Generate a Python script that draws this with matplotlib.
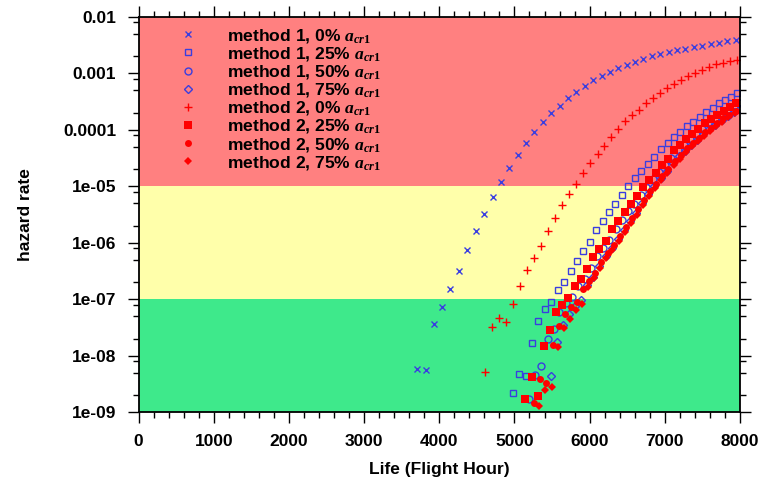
import matplotlib
matplotlib.use("Agg")
import matplotlib.pyplot as plt
from matplotlib.ticker import FixedLocator, FixedFormatter, MultipleLocator, NullFormatter

plt.rcParams['font.family'] = ['Liberation Sans', 'DejaVu Sans']
plt.rcParams['font.weight'] = 'bold'
plt.rcParams['mathtext.fontset'] = 'custom'
plt.rcParams['mathtext.it'] = 'Liberation Serif:italic'
plt.rcParams['mathtext.rm'] = 'Liberation Serif'

# ---------------- data ----------------
m1_0_x = [3704, 3824, 3926, 4037, 4147, 4263, 4373, 4485, 4595, 4711, 4821, 4932, 5043, 5154,
          5264, 5380, 5490, 5602, 5712, 5823, 5934, 6049, 6161, 6271, 6381, 6493, 6603, 6714,
          6826, 6940, 7052, 7162, 7272, 7384, 7495, 7610, 7721, 7831, 7943]
m1_0_y = [5.8e-9, 5.5e-9, 3.7e-8, 7.4e-8, 1.49e-7, 3.1e-7, 7.5e-7, 1.63e-6, 3.2e-6, 6.4e-6,
          1.19e-5, 2.08e-5, 3.6e-5, 5.8e-5, 9.1e-5, 1.39e-4, 1.99e-4, 2.7e-4, 3.7e-4, 4.7e-4,
          6.0e-4, 7.5e-4, 9.1e-4, 1.06e-3, 1.23e-3, 1.43e-3, 1.61e-3, 1.80e-3, 2.01e-3, 2.21e-3,
          2.39e-3, 2.57e-3, 2.71e-3, 2.90e-3, 3.12e-3, 3.32e-3, 3.50e-3, 3.68e-3, 3.86e-3]

m1_25_x = [4977, 5065, 5150, 5234, 5320, 5406, 5490, 5575, 5663, 5748, 5832, 5916, 6005, 6089,
           6175, 6262, 6344, 6433, 6517, 6601, 6687, 6772, 6860, 6945, 7038, 7122, 7206, 7299,
           7379, 7468, 7552, 7637, 7721, 7801, 7876, 7964]
m1_25_y = [2.2e-9, 4.8e-9, 4.4e-9, 1.68e-8, 4.1e-8, 6.6e-8, 9.0e-8, 1.47e-7, 2.03e-7, 3.2e-7,
           4.8e-7, 7.2e-7, 1.05e-6, 1.67e-6, 2.42e-6, 3.5e-6, 4.9e-6, 7.0e-6, 1.02e-5, 1.38e-5,
           1.88e-5, 2.51e-5, 3.3e-5, 4.5e-5, 5.8e-5, 7.4e-5, 9.1e-5, 1.17e-4, 1.39e-4, 1.69e-4,
           2.07e-4, 2.47e-4, 2.95e-4, 3.4e-4, 3.9e-4, 4.5e-4]

m1_50_x = [5200, 5280, 5356, 5440, 5522, 5599, 5683, 5770, 5849, 5932, 6012, 6094, 6178, 6262,
           6347, 6427, 6511, 6594, 6677, 6756, 6840, 6925, 7009, 7085, 7169, 7253, 7332, 7412,
           7492, 7581, 7661, 7745, 7830, 7914, 7993]
m1_50_y = [1.67e-9, 4.6e-9, 6.6e-9, 1.93e-8, 2.9e-8, 5.8e-8, 8.5e-8, 1.07e-7, 1.73e-7, 2.31e-7,
           3.5e-7, 5.7e-7, 7.9e-7, 1.11e-6, 1.78e-6, 2.52e-6, 3.6e-6, 4.9e-6, 7.0e-6, 9.7e-6,
           1.33e-5, 1.76e-5, 2.41e-5, 3.2e-5, 4.4e-5, 5.5e-5, 6.9e-5, 8.5e-5, 1.05e-4, 1.32e-4,
           1.55e-4, 1.87e-4, 2.20e-4, 2.59e-4, 2.99e-4]

m1_75_x = [5482, 5563, 5644, 5726, 5807, 5888, 5969, 6050, 6131, 6212, 6294, 6375, 6456, 6537,
           6618, 6699, 6780, 6861, 6943, 7024, 7105, 7186, 7267, 7348, 7429, 7510, 7592, 7673,
           7754, 7835, 7916, 7997]
m1_75_y = [4.3e-9, 1.73e-8, 3.5e-8, 5.4e-8, 7.5e-8, 9.8e-8, 1.77e-7, 2.5e-7, 3.8e-7, 5.8e-7,
           8.0e-7, 1.16e-6, 1.71e-6, 2.42e-6, 3.4e-6, 5.0e-6, 7.3e-6, 1.01e-5, 1.40e-5, 1.90e-5,
           2.58e-5, 3.4e-5, 4.3e-5, 5.4e-5, 6.7e-5, 8.4e-5, 1.03e-4, 1.24e-4, 1.49e-4, 1.76e-4,
           2.07e-4, 2.39e-4]

m2_0_x = [4612, 4706, 4799, 4892, 4985, 5078, 5171, 5264, 5357, 5450, 5543, 5637, 5730, 5823,
          5916, 6009, 6105, 6195, 6288, 6381, 6474, 6568, 6661, 6754, 6847, 6940, 7033, 7126,
          7219, 7312, 7405, 7499, 7592, 7685, 7778, 7871, 7964]
m2_0_y = [5.1e-9, 3.2e-8, 4.7e-8, 3.9e-8, 8.1e-8, 1.70e-7, 3.3e-7, 5.3e-7, 8.6e-7, 1.59e-6,
          2.73e-6, 4.6e-6, 7.3e-6, 1.11e-5, 1.75e-5, 2.60e-5, 3.7e-5, 5.2e-5, 7.4e-5, 1.05e-4,
          1.42e-4, 1.81e-4, 2.27e-4, 2.95e-4, 3.6e-4, 4.5e-4, 5.6e-4, 6.6e-4, 7.6e-4, 9.0e-4,
          1.00e-3, 1.15e-3, 1.32e-3, 1.47e-3, 1.56e-3, 1.64e-3, 1.73e-3]

m2_25_x = [5147, 5230, 5313, 5390, 5473, 5553, 5635, 5719, 5801, 5885, 5968, 6049, 6131, 6215,
           6300, 6380, 6464, 6548, 6630, 6710, 6794, 6879, 6963, 7038, 7122, 7206, 7286, 7366,
           7445, 7534, 7614, 7698, 7783, 7867, 7947]
m2_25_y = [1.73e-9, 4.2e-9, 1.93e-9, 1.48e-8, 2.86e-8, 5.8e-8, 7.8e-8, 1.04e-7, 1.68e-7, 2.23e-7,
           3.4e-7, 5.5e-7, 7.6e-7, 1.08e-6, 1.72e-6, 2.47e-6, 3.5e-6, 4.8e-6, 6.8e-6, 9.6e-6,
           1.30e-5, 1.73e-5, 2.38e-5, 3.1e-5, 4.4e-5, 5.4e-5, 6.8e-5, 8.4e-5, 1.05e-4, 1.30e-4,
           1.53e-4, 1.85e-4, 2.18e-4, 2.57e-4, 2.95e-4]

m2_50_x = [5264, 5345, 5426, 5508, 5589, 5670, 5751, 5832, 5913, 5994, 6075, 6157, 6238, 6319,
           6400, 6481, 6562, 6643, 6725, 6806, 6887, 6968, 7049, 7130, 7211, 7292, 7374, 7455,
           7536, 7617, 7698, 7779, 7860, 7941]
m2_50_y = [1.45e-9, 3.9e-9, 3.2e-9, 1.53e-8, 3.4e-8, 5.5e-8, 7.3e-8, 9.0e-8, 1.50e-7, 2.13e-7,
           2.95e-7, 4.6e-7, 6.6e-7, 9.1e-7, 1.31e-6, 1.91e-6, 2.70e-6, 3.9e-6, 5.7e-6, 8.2e-6,
           1.12e-5, 1.55e-5, 2.06e-5, 2.86e-5, 3.6e-5, 4.7e-5, 5.8e-5, 7.3e-5, 9.1e-5, 1.10e-4,
           1.32e-4, 1.59e-4, 1.87e-4, 2.20e-4]

m2_75_x = [5331, 5412, 5493, 5574, 5655, 5736, 5817, 5899, 5980, 6061, 6142, 6223, 6304, 6385,
           6467, 6548, 6629, 6710, 6791, 6872, 6953, 7034, 7116, 7197, 7278, 7359, 7440, 7521,
           7602, 7684, 7765, 7846, 7927]
m2_75_y = [1.27e-9, 2.44e-9, 2.81e-9, 1.41e-8, 3.06e-8, 4.5e-8, 6.4e-8, 8.3e-8, 1.63e-7, 2.36e-7,
           3.5e-7, 5.3e-7, 7.5e-7, 1.07e-6, 1.57e-6, 2.23e-6, 3.1e-6, 4.6e-6, 6.7e-6, 9.3e-6,
           1.29e-5, 1.75e-5, 2.38e-5, 3.1e-5, 4.0e-5, 5.1e-5, 6.3e-5, 7.9e-5, 9.7e-5, 1.17e-4,
           1.40e-4, 1.69e-4, 1.99e-4]

series_labels = [r'method 1, 0% $\mathit{a_{cr1}}$', r'method 1, 25% $\mathit{a_{cr1}}$',
                 r'method 1, 50% $\mathit{a_{cr1}}$', r'method 1, 75% $\mathit{a_{cr1}}$',
                 r'method 2, 0% $\mathit{a_{cr1}}$', r'method 2, 25% $\mathit{a_{cr1}}$',
                 r'method 2, 50% $\mathit{a_{cr1}}$', r'method 2, 75% $\mathit{a_{cr1}}$']

band_edges = [1e-9, 1e-7, 1e-5, 1e-2]
band_colors = ['#3ee98b', '#ffffaa', '#ff8080']

y_ticks = [1e-9, 1e-8, 1e-7, 1e-6, 1e-5, 1e-4, 1e-3, 1e-2]
y_tick_labels = ['1e-09', '1e-08', '1e-07', '1e-06', '1e-05', '0.0001', '0.001', '0.01']
x_ticks = [0, 1000, 2000, 3000, 4000, 5000, 6000, 7000, 8000]

# ---------------- figure ----------------
W, H = 766, 486
fig = plt.figure(figsize=(W / 100, H / 100), dpi=100)
ax = fig.add_axes([138.5 / W, 1 - 412 / H, (740 - 138.5) / W, (412 - 17) / H])
ax.set_yscale('log')
ax.set_xlim(0, 8000)
ax.set_ylim(1e-9, 1e-2)

for lo, hi, c in zip(band_edges[:-1], band_edges[1:], band_colors):
    ax.axhspan(lo, hi, color=c, lw=0, zorder=0)

blue = '#3a3ee0'
red = '#ff0000'
ax.plot(m1_0_x, m1_0_y, ls='none', marker='x', ms=5, mew=1.0, color=blue, label=series_labels[0])
ax.plot(m1_25_x, m1_25_y, ls='none', marker='s', ms=5, mew=1.0, mfc='none', mec=blue, label=series_labels[1])
ax.plot(m1_50_x, m1_50_y, ls='none', marker='o', ms=5, mew=1.0, mfc='none', mec=blue, label=series_labels[2])
ax.plot(m1_75_x, m1_75_y, ls='none', marker='D', ms=4, mew=1.0, mfc='none', mec=blue, label=series_labels[3])
ax.plot(m2_0_x, m2_0_y, ls='none', marker='+', ms=6, mew=1.0, color=red, label=series_labels[4])
ax.plot(m2_25_x, m2_25_y, ls='none', marker='s', ms=5.5, mew=0, color=red, label=series_labels[5])
ax.plot(m2_50_x, m2_50_y, ls='none', marker='o', ms=5, mew=0, color=red, label=series_labels[6])
ax.plot(m2_75_x, m2_75_y, ls='none', marker='D', ms=4, mew=0, color=red, label=series_labels[7])

# axes / ticks
ax.xaxis.set_major_locator(FixedLocator(x_ticks))
ax.xaxis.set_minor_locator(MultipleLocator(200))
ax.yaxis.set_major_locator(FixedLocator(y_ticks))
ax.yaxis.set_major_formatter(FixedFormatter(y_tick_labels))
ax.yaxis.set_minor_locator(matplotlib.ticker.LogLocator(base=10, subs=[2, 5, 8], numticks=20))
ax.yaxis.set_minor_formatter(NullFormatter())
ax.tick_params(which='both', direction='out', top=True, right=True, width=1.0, color='black')
ax.tick_params(which='major', length=8, pad=8, labelsize=12.5)
ax.tick_params(which='minor', length=4)
for lab in ax.get_xticklabels() + ax.get_yticklabels():
    lab.set_fontweight('bold')
for sp in ax.spines.values():
    sp.set_linewidth(1.3)
    sp.set_zorder(5)

ax.set_xlabel('Life (Flight Hour)', fontsize=12.5, fontweight='bold', labelpad=9)
ax.set_ylabel('hazard rate', fontsize=12.5, fontweight='bold', labelpad=22)

leg = ax.legend(loc='upper left', bbox_to_anchor=(179 / W, 1 - 27 / H),
                bbox_transform=fig.transFigure, frameon=False, fontsize=12.6,
                handlelength=1.0, handletextpad=1.72, labelspacing=0.005, borderpad=0,
                borderaxespad=0, markerscale=1.0)
for t in leg.get_texts():
    t.set_fontweight('bold')

fig.savefig('out.png', dpi=100)
